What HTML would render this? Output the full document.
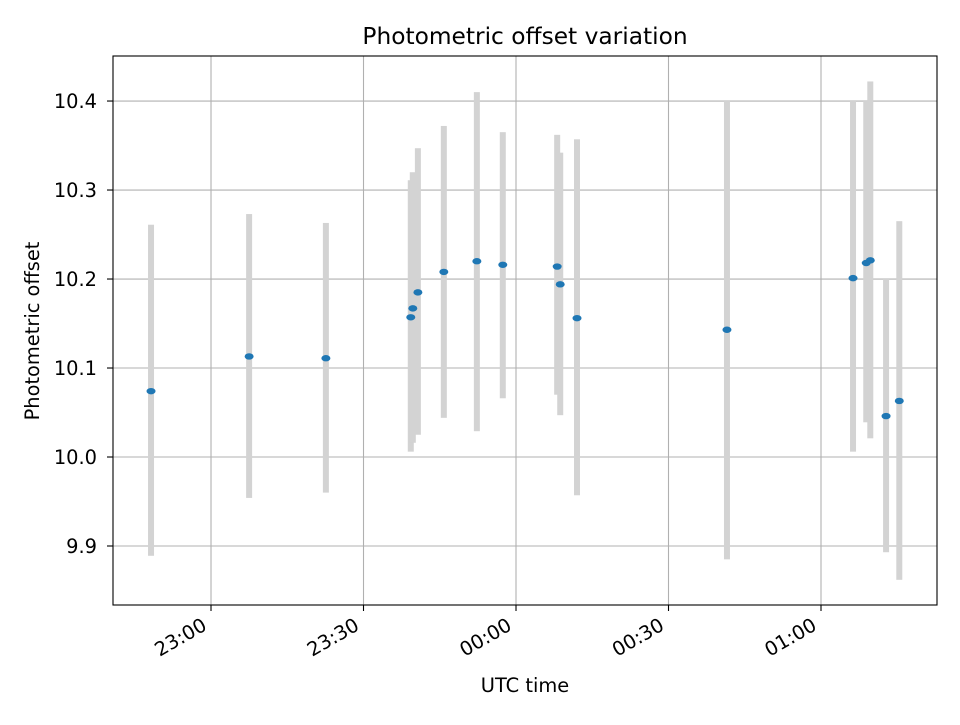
<!DOCTYPE html>
<html><head><meta charset="utf-8"><style>
body{margin:0;background:#fff}
svg{font-family:"DejaVu Sans","Liberation Sans",sans-serif}
</style></head><body>
<svg id="chart" width="960" height="720" viewBox="0 0 960 720" xmlns="http://www.w3.org/2000/svg">
<rect width="960" height="720" fill="#fff"/>
<g id="grid"></g>
<g id="bars"></g>
<g id="pts"></g>
<rect x="113" y="56" width="824" height="549" fill="none" stroke="#000" stroke-width="1.1"/>
<g id="axes"></g>
<text x="525" y="44" text-anchor="middle" font-size="23.3">Photometric offset variation</text>
<text x="525" y="692" text-anchor="middle" font-size="19.4">UTC time</text>
<text transform="translate(39,331) rotate(-90)" text-anchor="middle" font-size="19.4">Photometric offset</text>
</svg>
<script>
// minutes after 23:00 UTC
const times=[-11.8,7.5,22.6,39.3,39.7,40.7,45.8,52.3,57.4,68.1,68.7,72.0,101.5,126.3,128.9,129.7,132.8,135.4];
const offsets=[10.074,10.113,10.111,10.157,10.167,10.185,10.208,10.220,10.216,10.214,10.194,10.156,10.143,10.201,10.218,10.221,10.046,10.063];
const lows=[9.889,9.954,9.960,10.006,10.016,10.025,10.044,10.029,10.066,10.070,10.047,9.957,9.885,10.006,10.039,10.021,9.893,9.862];
const highs=[10.261,10.273,10.263,10.311,10.320,10.347,10.372,10.410,10.365,10.362,10.342,10.357,10.400,10.400,10.400,10.422,10.200,10.265];
const xTicks=[0,30,60,90,120];
const xTickLabels=["23:00","23:30","00:00","00:30","01:00"];
const yTicks=[9.9,10.0,10.1,10.2,10.3,10.4];
const yTickLabels=["9.9","10.0","10.1","10.2","10.3","10.4"];

const NS="http://www.w3.org/2000/svg";
const X0=113,X1=937,Y0=56,Y1=605;
const xMin=-19.28,xMax=142.82,yMin=9.8337,yMax=10.4506;
const sx=v=>X0+(v-xMin)/(xMax-xMin)*(X1-X0);
const sy=v=>Y1-(v-yMin)/(yMax-yMin)*(Y1-Y0);
function mk(tag,attrs,parent){const e=document.createElementNS(NS,tag);for(const k in attrs)e.setAttribute(k,attrs[k]);document.getElementById(parent).appendChild(e);return e;}
xTicks.forEach((t,i)=>{
  const x=sx(t);
  const g=mk('line',{x1:x,x2:x,y1:Y0,y2:Y1,stroke:'#b0b0b0','stroke-width':1.1},'grid');
  
  
  const tk=mk('line',{x1:x,x2:x,y1:Y1,y2:Y1+6,stroke:'#000','stroke-width':1.1},'axes');
  
  
  const tx=mk('text',{transform:`translate(${x-3},${Y1+24}) rotate(-30)`,'text-anchor':'end','font-size':19.4},'axes');
  tx.textContent=xTickLabels[i];
  
  
});
yTicks.forEach((t,i)=>{
  const y=sy(t);
  const g=mk('line',{x1:X0,x2:X1,y1:y,y2:y,stroke:'#b0b0b0','stroke-width':1.1},'grid');
  
  
  const tk=mk('line',{x1:X0-6,x2:X0,y1:y,y2:y,stroke:'#000','stroke-width':1.1},'axes');
  
  
  const tx=mk('text',{x:X0-16,y:y+7,'text-anchor':'end','font-size':19.4},'axes');
  tx.textContent=yTickLabels[i];
  
  
});
times.forEach((t,i)=>{
  const x=sx(t);
  const b=mk('rect',{x:x-3,y:sy(highs[i]),width:6,height:sy(lows[i])-sy(highs[i]),fill:'#d3d3d3'},'bars');
  
  
});
times.forEach((t,i)=>{
  const p=mk('ellipse',{cx:sx(t),cy:sy(offsets[i]),rx:4.5,ry:3.2,fill:'#1f77b4'},'pts');
  
  
});
</script>
</body></html>
